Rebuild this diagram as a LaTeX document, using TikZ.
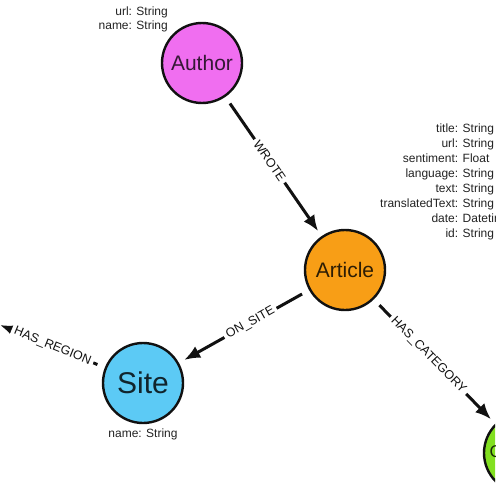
\documentclass[tikz,border=0pt]{standalone}
\usepackage{fontspec}
\setmainfont{Liberation Sans}
\usetikzlibrary{arrows.meta,positioning}
\definecolor{graphInk}  {HTML}{111111}
\definecolor{propInk}   {HTML}{222222}
\definecolor{authorFill}{HTML}{F06EF0}
\definecolor{articleFill}{HTML}{F89E16}
\definecolor{siteFill}  {HTML}{5CCAF5}
\definecolor{categoryFill}{HTML}{82E020}
\tikzset{
  >=Latex,
  entity/.style={circle,draw=graphInk,line width=2.4pt,minimum size=80pt,
                 inner sep=0pt,font=\fontsize{21}{24}\selectfont},
  entityAuthor/.style={entity,fill=authorFill,text=authorFill!22!black},
  entityArticle/.style={entity,fill=articleFill,text=articleFill!18!black},
  entitySite/.style={entity,fill=siteFill,text=siteFill!18!black,
                     font=\fontsize{30}{34}\selectfont},
  entityCategory/.style={entity,fill=categoryFill,text=categoryFill!20!black,
                         font=\fontsize{17}{20}\selectfont},
  relflow/.style={-{Latex[length=16pt,width=13pt]},line width=3pt,graphInk,
                  shorten <=8pt,shorten >=6pt},
  relLabel/.style={sloped,fill=white,inner sep=3pt,text=graphInk,
                   font=\fontsize{12.5}{14}\selectfont},
  propList/.style={inner sep=0pt,text=propInk,font=\fontsize{12}{15}\selectfont},
}

\begin{document}
\begin{tikzpicture}[x=1pt,y=-1pt]
\useasboundingbox (0,0) rectangle (495,495);
\clip (0,0) rectangle (495,495);

% Entities of the news graph.
\node[entityAuthor]   (author)   at (202,63)  {Author};
\node[entityArticle]  (article)  at (345,270) {Article};
\node[entitySite]     (site)     at (143,383) {Site};
\node[entityCategory] (category) at (524,453) {Category};

% Property lists, colons aligned.
\node[propList,font=\fontsize{12}{13.5}\selectfont,anchor=north east]
  (authorProps) at (168,6)
  {\begin{tabular}{@{}r@{: }l@{}}url&String\\ name&String\end{tabular}};
\node[propList,anchor=north west] (articleProps) at (380,122)
  {\begin{tabular}{@{}r@{: }l@{}}
   title&String\\ url&String\\ sentiment&Float\\ language&String\\
   text&String\\ translatedText&String\\ date&Datetime\\ id&String
   \end{tabular}};
\node[propList,below=4pt of site] (siteProps) {name: String};

% Relationships.
\coordinate (regionStub) at (0,325);
\draw[relflow] (author) -- (article) node[relLabel,pos=0.46] {WROTE};
\draw[relflow] (article) -- (site) node[relLabel,pos=0.45] {ON\_SITE};
\draw[relflow] (article) -- (category) node[relLabel,pos=0.45] {HAS\_CATEGORY};
\draw[relflow,shorten >=0pt] (site) -- (regionStub) node[relLabel,pos=0.5] {HAS\_REGION};

\end{tikzpicture}
\end{document}
